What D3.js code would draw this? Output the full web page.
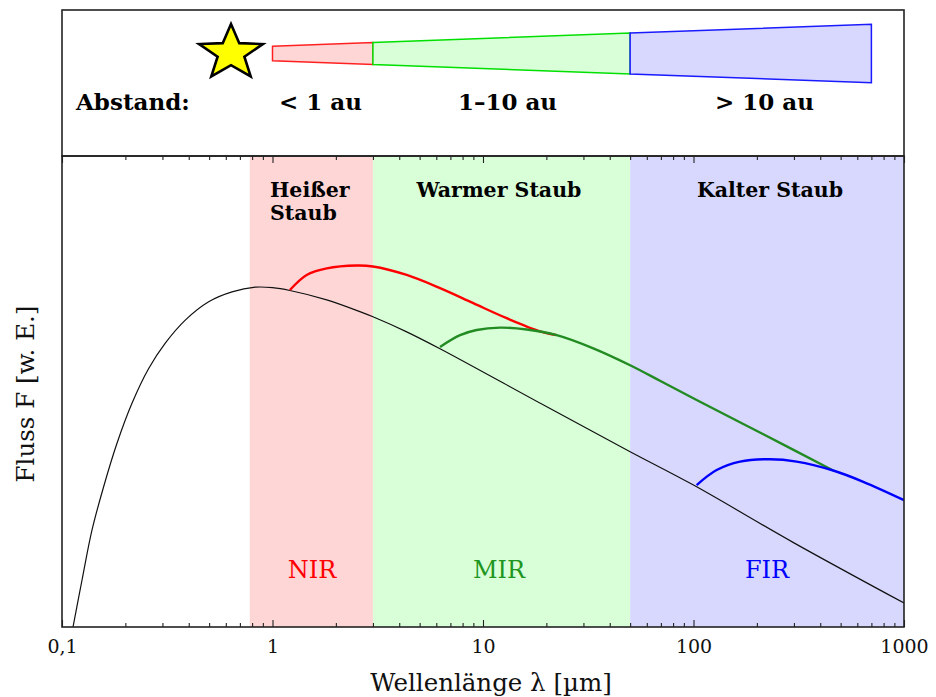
<!DOCTYPE html>
<html><head><meta charset="utf-8">
<script src="https://cdn.jsdelivr.net/npm/d3@7"></script>
<style>body{margin:0;background:#fff}</style>
</head><body>
<svg id="chart" width="936" height="697"></svg>
<script>
// ---------- data ----------
const bandNames = ["NIR", "MIR", "FIR"];
const bandEdges = [0.78, 3, 50, 1000];            // µm
const dustLabels = [["Heißer", "Staub"], ["Warmer Staub"], ["Kalter Staub"]];
const distanceLabels = ["< 1 au", "1–10 au", "> 10 au"];
const wedgeEdges = [1, 3, 50, 700];               // µm
const xTicks = [0.1, 1, 10, 100, 1000];
const xTickLabels = ["0,1", "1", "10", "100", "1000"];

const starLam  = [0.1128, 0.1245, 0.1388, 0.1578, 0.1825, 0.215, 0.2581, 0.3095, 0.3852, 0.4976, 0.642, 0.8286, 1.0, 1.21, 1.81, 2.6, 3.0, 4.34, 6.25, 20, 50, 100, 300, 1000];
const starFlux = [0, 10.0, 20.6, 29.9, 39.1, 47.6, 55.0, 60.4, 65.3, 69.2, 71.3, 72.3, 72.2, 71.6, 69.6, 67.1, 66.0, 62.8, 59.2, 46.9, 37.3, 30.2, 17.9, 5.1];

const hotLam  = [1.21, 1.453, 1.81, 2.51, 3.0, 4.34, 6.25, 8.99, 12.96, 18.66, 22.4];
const hotFlux = [71.7, 74.9, 76.3, 76.9, 76.7, 74.9, 72.1, 68.9, 65.7, 62.9, 62.1];

const warmLam  = [6.25, 7.78, 9.33, 12.05, 16.13, 22.4, 33.4, 50, 69.3, 103.5, 214.7, 461];
const warmFlux = [59.6, 62.1, 63.2, 63.7, 63.3, 62.1, 59.3, 55.7, 52.4, 48.3, 41.0, 33.3];

const coldLam  = [103.5, 128.8, 166.3, 230.9, 309.1, 461, 640.7, 1000];
const coldFlux = [30.2, 33.4, 35.2, 35.7, 35.2, 33.3, 30.9, 27.0];

// ---------- layout ----------
const L = 62, R = 904, T = 10, MID = 156, B = 627;
const svg = d3.select("#chart");

const x = d3.scaleLog().domain([0.1, 1000]).range([L, R]);
const y = d3.scaleLinear().domain([0, 100]).range([B, MID + 1]);

const bandFill = ["#ffd6d6", "#d9ffd9", "#d8d8ff"];
const bandText = ["#ff0000", "#1f961f", "#0000ff"];
const wedgeStroke = ["#ff2020", "#00e000", "#1a1aff"];
const serif = "'DejaVu Serif', serif";

svg.append("defs").append("clipPath").attr("id", "plotclip")
  .append("rect").attr("x", L).attr("y", MID).attr("width", R - L).attr("height", B - MID);

// bands
const bands = bandNames.map((n, i) => ({ name: n, x0: bandEdges[i], x1: bandEdges[i + 1], i }));
svg.append("g").selectAll("rect").data(bands).join("rect")
  .attr("x", d => x(d.x0)).attr("y", MID)
  .attr("width", d => x(d.x1) - x(d.x0)).attr("height", B - MID)
  .attr("fill", d => bandFill[d.i]);

// curves
const line = d3.line().x(d => x(d[0])).y(d => y(d[1])).curve(d3.curveCatmullRom.alpha(0.5));
const zip = (a, b) => a.map((v, i) => [v, b[i]]);
const gc = svg.append("g").attr("clip-path", "url(#plotclip)");
gc.append("path").attr("d", line(zip(starLam, starFlux))).attr("fill", "none").attr("stroke", "#111").attr("stroke-width", 1.2);
gc.append("path").attr("d", line(zip(hotLam, hotFlux))).attr("fill", "none").attr("stroke", "#ff0000").attr("stroke-width", 2.4);
gc.append("path").attr("d", line(zip(warmLam, warmFlux))).attr("fill", "none").attr("stroke", "#228b22").attr("stroke-width", 2.4);
gc.append("path").attr("d", line(zip(coldLam, coldFlux))).attr("fill", "none").attr("stroke", "#0000ff").attr("stroke-width", 2.4);

// band names
svg.append("g").selectAll("text").data(bands).join("text")
  .attr("x", d => [312, 499, 767][d.i]).attr("y", 578)
  .attr("text-anchor", "middle")
  .attr("font-family", serif).attr("font-size", 24)
  .attr("fill", d => bandText[d.i]).text(d => d.name);

// dust labels
const dl = svg.append("g").attr("font-family", serif).attr("font-weight", "bold").attr("font-size", 20.5).attr("fill", "#000");
dl.append("text").attr("x", 270).attr("y", 197).selectAll("tspan").data(dustLabels[0]).join("tspan")
  .attr("x", 270).attr("dy", (d, i) => i ? 23 : 0).text(d => d);
dl.append("text").attr("x", 499).attr("y", 197).attr("text-anchor", "middle").text(dustLabels[1][0]);
dl.append("text").attr("x", 770).attr("y", 197).attr("text-anchor", "middle").text(dustLabels[2][0]);

// axes
const minor = [];
for (let e = -1; e < 3; e++) for (let k = 2; k <= 9; k++) minor.push(k * Math.pow(10, e));
const gxB = svg.append("g").attr("transform", `translate(0,${B})`);
gxB.call(d3.axisBottom(x).tickValues(xTicks).tickSize(-7).tickFormat((d, i) => xTickLabels[i]));
gxB.append("g").call(d3.axisBottom(x).tickValues(minor).tickSize(-4).tickFormat(""));
const gxT = svg.append("g").attr("transform", `translate(0,${MID})`);
gxT.call(d3.axisTop(x).tickValues(xTicks).tickSize(-7).tickFormat(""));
gxT.append("g").call(d3.axisTop(x).tickValues(minor).tickSize(-4).tickFormat(""));
svg.selectAll(".domain").remove();
svg.selectAll(".tick line").attr("stroke", "#222").attr("stroke-width", 1.1);
gxB.selectAll(".tick text").attr("y", 26).attr("dy", 0)
  .attr("font-family", serif).attr("font-size", 19).attr("fill", "#111");

// frames
svg.append("rect").attr("x", L).attr("y", T).attr("width", R - L).attr("height", MID - T)
  .attr("fill", "none").attr("stroke", "#222").attr("stroke-width", 1.6);
svg.append("rect").attr("x", L).attr("y", MID).attr("width", R - L).attr("height", B - MID)
  .attr("fill", "none").attr("stroke", "#222").attr("stroke-width", 1.6);

// axis titles
svg.append("text").attr("x", 491).attr("y", 691).attr("text-anchor", "middle")
  .attr("font-family", serif).attr("font-size", 24.5).attr("fill", "#111").text("Wellenlänge λ [µm]");
svg.append("text").attr("transform", "translate(34,394) rotate(-90)").attr("text-anchor", "middle")
  .attr("font-family", serif).attr("font-size", 24.5).attr("fill", "#111").text("Fluss F [w. E.]");

// top panel: distance wedges
const cy = 53.5;
const halfH = d3.scaleLinear().domain([x(wedgeEdges[0]), x(wedgeEdges[3])]).range([7.3, 29.3]);
const wedges = distanceLabels.map((t, i) => ({ t, a: wedgeEdges[i], b: wedgeEdges[i + 1], i }));
svg.append("g").selectAll("path").data(wedges).join("path")
  .attr("d", d => {
    const xa = x(d.a), xb = x(d.b);
    return `M${xa},${cy - halfH(xa)}L${xb},${cy - halfH(xb)}L${xb},${cy + halfH(xb)}L${xa},${cy + halfH(xa)}Z`;
  })
  .attr("fill", d => bandFill[d.i]).attr("stroke", d => wedgeStroke[d.i]).attr("stroke-width", 1.5);

const tp = svg.append("g").attr("font-family", serif).attr("font-weight", "bold").attr("font-size", 23).attr("fill", "#000");
tp.append("text").attr("x", 76).attr("y", 110).text("Abstand:");
tp.selectAll("text.d").data(wedges).join("text").attr("class", "d")
  .attr("x", d => [320.5, 507.5, 764.5][d.i]).attr("y", 110).attr("text-anchor", "middle").text(d => d.t);

// star
const starPts = d3.range(10).map(k => {
  const ang = -Math.PI / 2 + k * Math.PI / 5;
  const r = k % 2 ? 0.42 : 1;
  return [231 + 33.5 * r * Math.cos(ang), 53 + 29 * r * Math.sin(ang)];
});
svg.append("path").attr("d", d3.line()(starPts) + "Z")
  .attr("fill", "#ffff00").attr("stroke", "#000").attr("stroke-width", 2.6).attr("stroke-linejoin", "miter");
</script>
</body></html>
